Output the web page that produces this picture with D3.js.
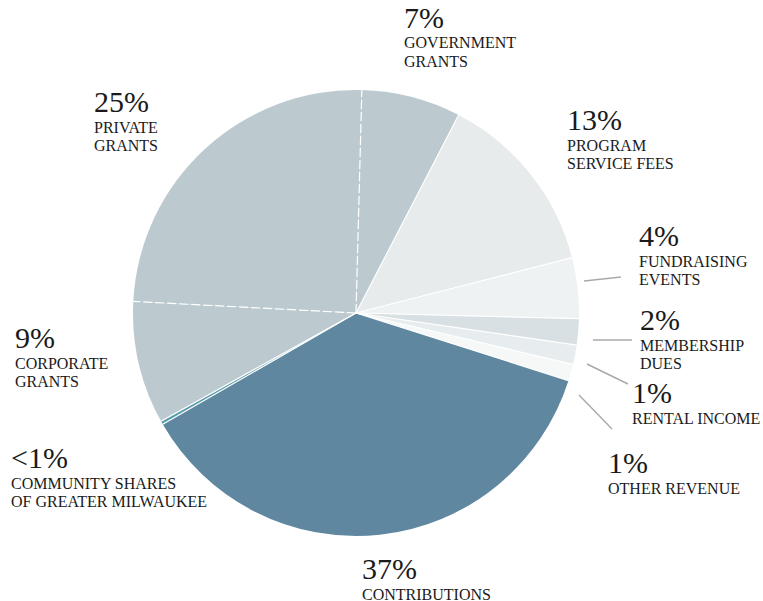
<!DOCTYPE html>
<html>
<head>
<meta charset="utf-8">
<script src="https://cdn.jsdelivr.net/npm/d3@7"></script>
<style>
  html, body { margin: 0; padding: 0; background: #ffffff; }
  svg { display: block; }
  .pct { font-family: "Liberation Serif", "DejaVu Serif", serif; font-size: 30px; fill: #1a1a1a; }
  .lbl { font-family: "Liberation Serif", "DejaVu Serif", serif; font-size: 16px; fill: #1a1a1a; }
</style>
</head>
<body>
<div id="chart"></div>
<script>
// ---- data ----
const categories = ["Government Grants", "Program Service Fees", "Fundraising Events", "Membership Dues",
  "Rental Income", "Other Revenue", "Contributions", "Community Shares of Greater Milwaukee",
  "Corporate Grants", "Private Grants"];
const values = [7.2, 13.4, 4.4, 1.9, 1.4, 1.2, 36.8, 0.25, 8.9, 24.6];
const percentLabels = ["7%", "13%", "4%", "2%", "1%", "1%", "37%", "<1%", "9%", "25%"];
const nameLines = [
  ["GOVERNMENT", "GRANTS"],
  ["PROGRAM", "SERVICE FEES"],
  ["FUNDRAISING", "EVENTS"],
  ["MEMBERSHIP", "DUES"],
  ["RENTAL INCOME"],
  ["OTHER REVENUE"],
  ["CONTRIBUTIONS"],
  ["COMMUNITY SHARES", "OF GREATER MILWAUKEE"],
  ["CORPORATE", "GRANTS"],
  ["PRIVATE", "GRANTS"]
];
const colors = ["#bccacf", "#e7ebec", "#eef2f3", "#d8e0e3", "#e7ecee", "#f6f8f8", "#5f88a0", "#5a9dac", "#bccacf", "#bccacf"];

// ---- layout (positions only) ----
const W = 763, H = 601;
const cx = 356, cy = 313, R = 223;
const startDeg = 1.5;
// label anchor: x, baseline of percent
const labelPos = [
  [404, 27.5], [567, 130], [639, 246], [640, 330], [632, 403],
  [608, 473], [362, 579], [11, 468], [15, 348], [94, 112]
];
const leaders = [
  null, null,
  [[584, 281], [621, 277]],
  [[593, 340], [632, 340]],
  [[587, 364], [628, 384]],
  [[579, 395], [612, 429]],
  null, null, null, null
];

const svg = d3.select("#chart").append("svg").attr("width", W).attr("height", H);
const g = svg.append("g").attr("transform", `translate(${cx},${cy})`);

const start = startDeg * Math.PI / 180;
const pie = d3.pie().sort(null).value(d => d).startAngle(start).endAngle(start + 2 * Math.PI);
const arcs = pie(values);
const arc = d3.arc().innerRadius(0).outerRadius(R);

g.selectAll("path.slice").data(arcs).join("path")
  .attr("class", "slice")
  .attr("d", arc)
  .attr("fill", (d, i) => colors[i]);

// separators
const rad = d3.scaleLinear().domain([0, 1]).range([0, R]);
g.selectAll("line.sep").data(arcs).join("line")
  .attr("class", "sep")
  .attr("x1", 0).attr("y1", 0)
  .attr("x2", d => Math.sin(d.startAngle) * rad(1))
  .attr("y2", d => -Math.cos(d.startAngle) * rad(1))
  .attr("stroke", "#ffffff")
  .attr("stroke-width", 1.2)
  .attr("stroke-dasharray", (d, i) => {
    const prev = (i - 1 + values.length) % values.length;
    return colors[prev] === colors[i] ? "9,3" : null;
  });

// leader lines
svg.selectAll("line.leader").data(leaders.filter(d => d)).join("line")
  .attr("class", "leader")
  .attr("x1", d => d[0][0]).attr("y1", d => d[0][1])
  .attr("x2", d => d[1][0]).attr("y2", d => d[1][1])
  .attr("stroke", "#a9a9a9").attr("stroke-width", 1.4);

// labels
const lab = svg.selectAll("g.label").data(categories).join("g").attr("class", "label")
  .attr("transform", (d, i) => `translate(${labelPos[i][0]},${labelPos[i][1]})`);
lab.append("text").attr("class", "pct").attr("x", 0).attr("y", 0).text((d, i) => percentLabels[i]);
lab.each(function(d, i) {
  const sel = d3.select(this);
  nameLines[i].forEach((t, j) => {
    sel.append("text").attr("class", "lbl").attr("x", 0).attr("y", 20.5 + j * 18.5).text(t);
  });
});
</script>
</body>
</html>
